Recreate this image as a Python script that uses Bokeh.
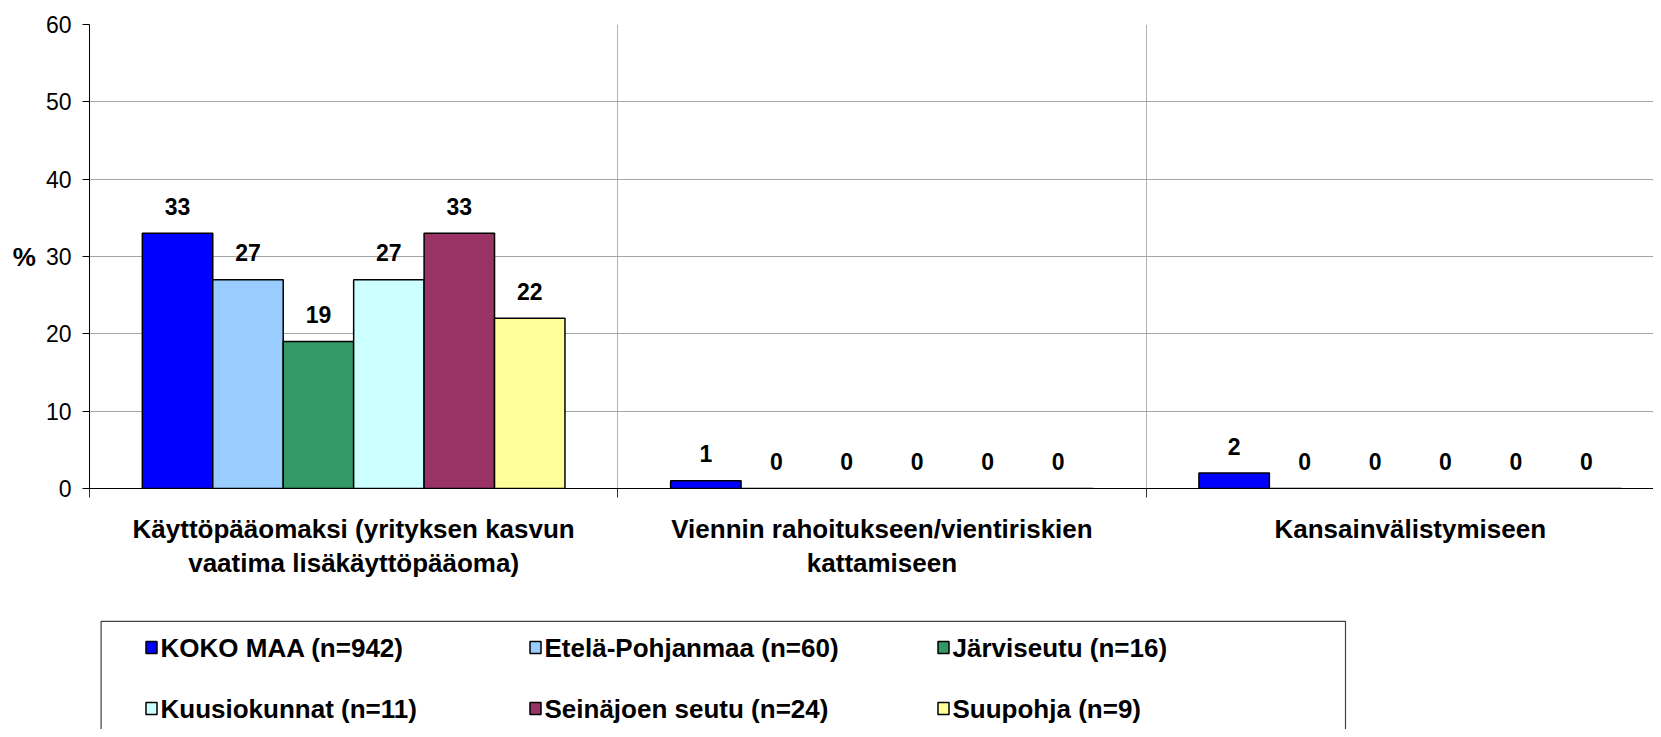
from bokeh.plotting import figure
from bokeh.models import Range1d, FixedTicker, ColumnDataSource
from bokeh.layouts import column
from bokeh.core.properties import value
from bokeh.embed import file_html
from bokeh.resources import INLINE

# ---------------- data ----------------
categories = [
    "Käyttöpääomaksi (yrityksen kasvun\nvaatima lisäkäyttöpääoma)",
    "Viennin rahoitukseen/vientiriskien\nkattamiseen",
    "Kansainvälistymiseen",
]
series_names = [
    "KOKO MAA (n=942)",
    "Etelä-Pohjanmaa (n=60)",
    "Järviseutu (n=16)",
    "Kuusiokunnat (n=11)",
    "Seinäjoen seutu (n=24)",
    "Suupohja (n=9)",
]
koko_maa = [33, 1, 2]
etela_pohjanmaa = [27, 0, 0]
jarviseutu = [19, 0, 0]
kuusiokunnat = [27, 0, 0]
seinajoen_seutu = [33, 0, 0]
suupohja = [22, 0, 0]
y_ticks = [0, 10, 20, 30, 40, 50, 60]
y_axis_label = "%"

series_values = [koko_maa, etela_pohjanmaa, jarviseutu, kuusiokunnat, seinajoen_seutu, suupohja]
colors = ["#0000FF", "#99CCFF", "#339966", "#CCFFFF", "#993366", "#FFFF99"]

FONT = value("Liberation Sans")

# ---------------- layout constants ----------------
W = 1653
LEFT = 89
TOP = 24
FRAME_H = 464
BOTTOM = 110
MAIN_H = TOP + FRAME_H + BOTTOM
LEG_H = 729 - MAIN_H
cat_px = 528.3
frame_w = W - LEFT

# ---------------- main chart ----------------
p = figure(
    width=W, height=MAIN_H,
    x_range=Range1d(0.5, 0.5 + frame_w / cat_px),
    y_range=Range1d(0, 60),
    output_backend="svg", toolbar_location=None,
    min_border_left=LEFT, min_border_right=0, min_border_top=TOP, min_border_bottom=BOTTOM,
)
p.outline_line_color = None
p.background_fill_color = "white"
p.border_fill_color = "white"

n = len(series_values)
bw = 0.8 / n
cat_pos = [k + 1 for k in range(len(categories))]
for i, (vals, col) in enumerate(zip(series_values, colors)):
    xs = [c + (i - (n - 1) / 2) * bw for c in cat_pos]
    src = ColumnDataSource(dict(x=xs, top=vals, lab=[str(v) for v in vals]))
    p.vbar(x="x", top="top", bottom=0, width=bw, source=src,
           fill_color=col, line_color="black", line_width=1.5)
    p.text(x="x", y="top", text="lab", source=src,
           text_font=FONT, text_font_style="bold", text_font_size="23px",
           text_align="center", text_baseline="alphabetic", y_offset=-27,
           text_color="black")

# y axis
p.yaxis.ticker = FixedTicker(ticks=y_ticks)
p.yaxis.major_tick_out = 7
p.yaxis.major_tick_in = 0
p.yaxis.minor_tick_out = 0
p.yaxis.minor_tick_in = 0
p.yaxis.axis_line_color = "black"
p.yaxis.major_tick_line_color = "black"
p.yaxis.major_label_text_font = "Liberation Sans"
p.yaxis.major_label_text_font_size = "23px"
p.yaxis.major_label_text_color = "black"
p.yaxis.major_label_standoff = 11
p.yaxis.axis_label = y_axis_label
p.yaxis.axis_label_orientation = "horizontal"
p.yaxis.axis_label_text_font = "Liberation Sans"
p.yaxis.axis_label_text_font_style = "bold"
p.yaxis.axis_label_text_font_size = "26px"
p.yaxis.axis_label_text_color = "black"
p.yaxis.axis_label_standoff = 7

# x axis
p.xaxis.ticker = FixedTicker(ticks=cat_pos, minor_ticks=[c - 0.5 for c in cat_pos])
p.xaxis.major_label_overrides = {c: lab for c, lab in zip(cat_pos, categories)}
p.xaxis.major_tick_out = 0
p.xaxis.major_tick_in = 0
p.xaxis.minor_tick_out = 9
p.xaxis.minor_tick_in = 0
p.xaxis.minor_tick_line_color = "#333333"
p.xaxis.axis_line_color = "black"
p.xaxis.major_label_text_font = "Liberation Sans"
p.xaxis.major_label_text_font_style = "bold"
p.xaxis.major_label_text_font_size = "26px"
p.xaxis.major_label_text_color = "black"
p.xaxis.major_label_text_line_height = 1.15
p.xaxis.major_label_standoff = 16

# grids
p.ygrid.ticker = FixedTicker(ticks=y_ticks[1:])
p.ygrid.grid_line_color = "#a6a6a6"
p.ygrid.grid_line_width = 1
p.xgrid.ticker = FixedTicker(ticks=[c + 0.5 for c in cat_pos])
p.xgrid.grid_line_color = "#b3b3b3"
p.xgrid.grid_line_width = 1

# ---------------- legend (separate panel, page-pixel coordinates) ----------------
lg = figure(
    width=W, height=LEG_H,
    x_range=Range1d(LEFT, W), y_range=Range1d(MAIN_H + LEG_H, MAIN_H),
    output_backend="svg", toolbar_location=None,
    x_axis_type=None, y_axis_type=None,
    min_border_left=LEFT, min_border_right=0, min_border_top=0, min_border_bottom=0,
)
lg.outline_line_color = None
lg.grid.visible = False

box_left, box_right, box_top = 100.6, 1345.0, 620.8
lg.quad(left=[box_left], right=[box_right], top=[box_top], bottom=[MAIN_H + LEG_H + 6],
        fill_color=None, line_color="#404040", line_width=1.2)

col_x = [151, 535, 943]
row_y = [647, 708]
mx, my, tx = [], [], []
for k in range(len(series_names)):
    r, c = divmod(k, 3)
    mx.append(col_x[c])
    my.append(row_y[r])
    tx.append(col_x[c] + 9)
lsrc = ColumnDataSource(dict(mx=mx, my=my, tx=tx, name=series_names, color=colors))
lg.rect(x="mx", y="my", width=11, height=12, source=lsrc,
        fill_color="color", line_color="black", line_width=1.5)
lg.text(x="tx", y="my", text="name", source=lsrc,
        text_font=FONT, text_font_style="bold", text_font_size="26px",
        text_baseline="middle", text_align="left", text_color="black")

layout = column(p, lg, spacing=0)
open("out.html", "w").write(file_html(layout, INLINE))
